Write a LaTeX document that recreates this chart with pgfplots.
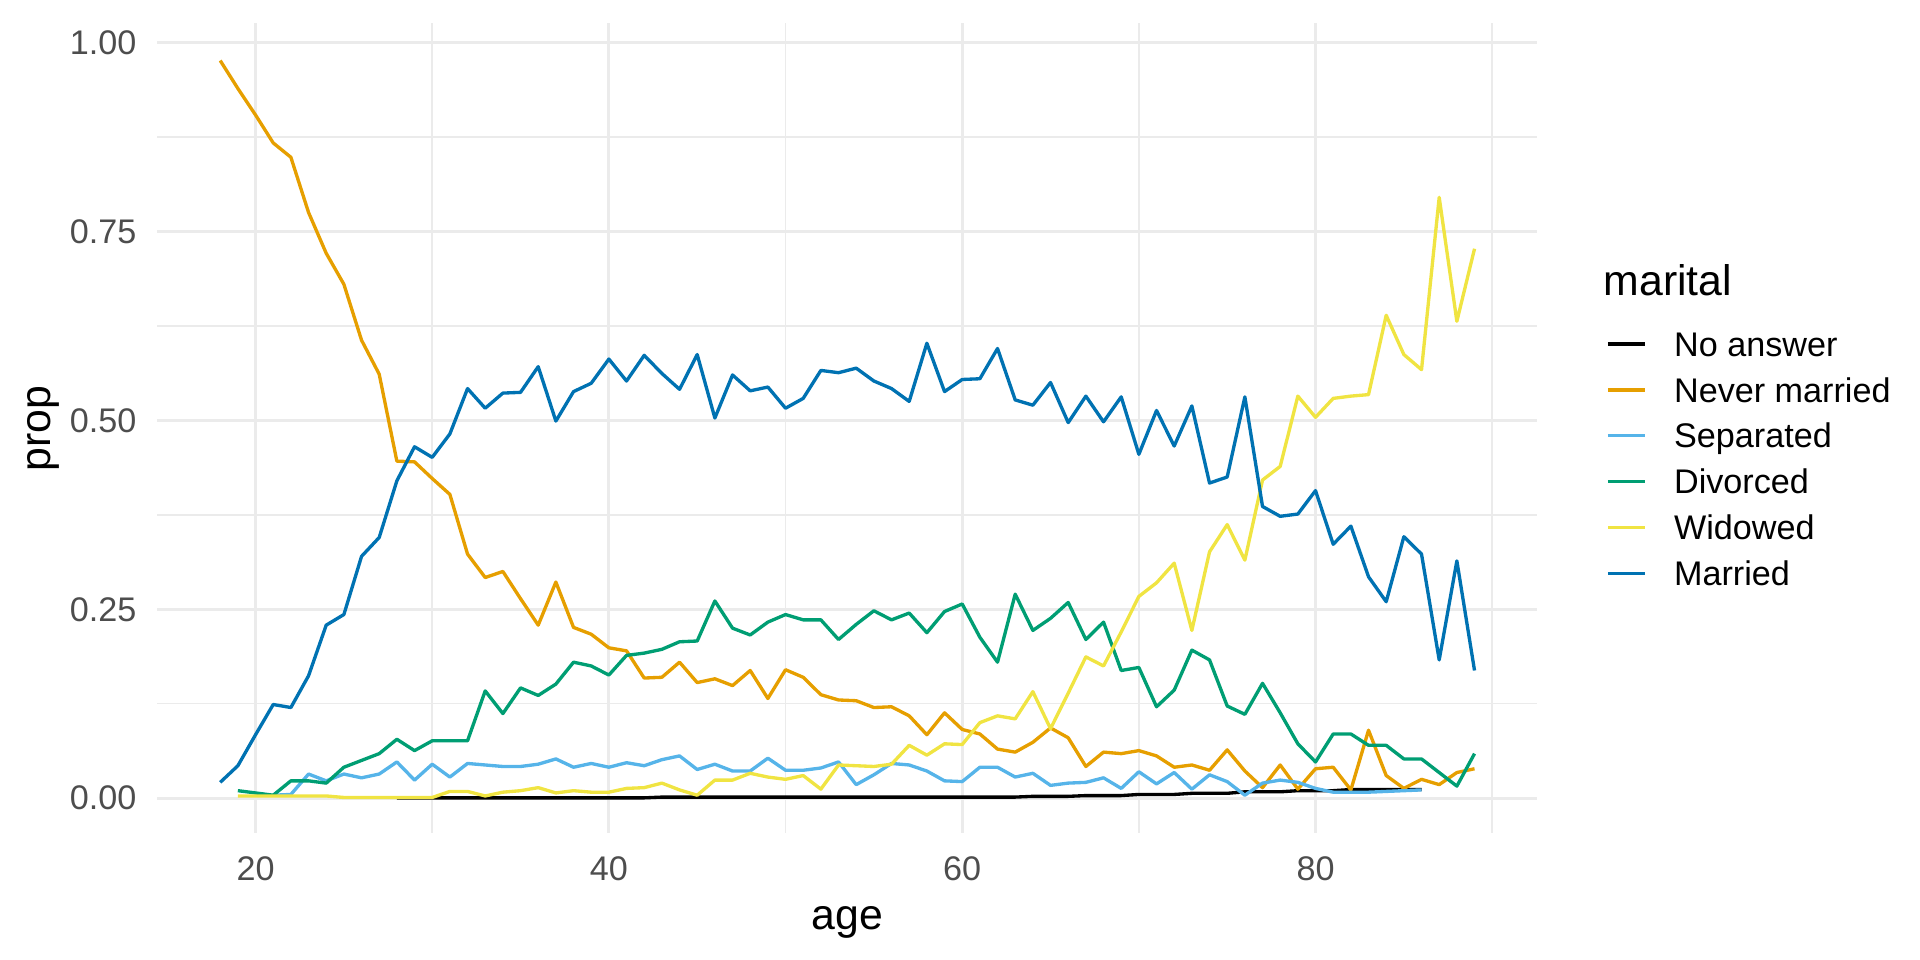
\documentclass[border=0pt]{standalone}
\usepackage{fontspec}
\setmainfont{Liberation Sans}
\usepackage{pgfplots}
\pgfplotsset{compat=1.18}
\definecolor{gridgray}{HTML}{EBEBEB}
\definecolor{ticktext}{HTML}{4D4D4D}
\definecolor{cNA}{HTML}{000000}
\definecolor{cNever}{HTML}{E69F00}
\definecolor{cSep}{HTML}{56B4E9}
\definecolor{cDiv}{HTML}{009E73}
\definecolor{cWid}{HTML}{F0E442}
\definecolor{cMar}{HTML}{0072B2}
\newcommand{\ticksize}{\fontsize{12.3}{14}\selectfont}
\newcommand{\titlesize}{\fontsize{15.4}{18}\selectfont}
\tikzset{dl/.style={line width=1.2pt, line join=round}}
\begin{document}
\begin{tikzpicture}
\useasboundingbox (0,0) rectangle (691.2pt,345.6pt);
\begin{axis}[
  at={(56.7pt,45.72pt)}, anchor=south west,
  scale only axis, width=496.7pt, height=291.42pt,
  xmin=14.45, xmax=92.55, ymin=-0.046, ymax=1.025,
  axis line style={draw=none},
  major tick length=0pt, minor tick length=0pt,
  xtick={20,40,60,80}, xticklabels={20,40,60,80},
  ytick={0,0.25,0.5,0.75,1}, yticklabels={0.00,0.25,0.50,0.75,1.00},
  minor xtick={30,50,70,90}, minor ytick={0.125,0.375,0.625,0.875},
  grid=both,
  major grid style={color=gridgray, line width=1.07pt},
  minor grid style={color=gridgray, line width=0.53pt},
  /pgf/number format/assume math mode=true,
  xticklabel style={anchor=north, inner sep=0pt, font=\ticksize, text=ticktext},
  yticklabel style={anchor=east, inner sep=0pt, font=\ticksize, text=ticktext},
  xticklabel shift=8.28pt, yticklabel shift=7.4pt,
  xlabel={age}, ylabel={prop},
  xlabel style={at={(axis description cs:0.5,-0.1186)}, anchor=base, inner sep=0pt, font=\titlesize},
  ylabel style={at={(axis description cs:-0.0779,0.5)}, anchor=base, inner sep=0pt, font=\titlesize},
  legend cell align=left,
  legend style={at={(axis description cs:1.0499,0.6233)}, anchor=north west,
    draw=none, fill=none, inner sep=0pt, outer sep=0pt,
    row sep=5.32pt, column sep=10pt, font=\ticksize,
    nodes={inner sep=0pt, text height=10pt, text depth=1.2pt}},
  legend image code/.code={\draw[#1, line width=1.2pt] (0pt,0pt) -- (13.3pt,0pt);},
]
% No answer
\addplot[color=cNA, dl] coordinates {
(28,0.0005)(29,0.0005)(30,0.0005)(31,0.0005)(32,0.0005)(33,0.0005)(34,0.0005)(35,0.0005)
(36,0.0005)(37,0.0005)(38,0.0005)(39,0.0005)(40,0.0005)(41,0.0005)(42,0.0005)
(43,0.0015)(44,0.0015)(45,0.0015)(46,0.0015)(47,0.0015)(48,0.0015)(49,0.0015)(50,0.0015)
(51,0.0015)(52,0.0015)(53,0.0015)(54,0.0015)(55,0.0015)(56,0.0015)(57,0.0015)(58,0.0015)
(59,0.0015)(60,0.0015)(61,0.0015)(62,0.0015)(63,0.0015)
(64,0.0025)(65,0.0025)(66,0.0025)(67,0.0035)(68,0.0035)(69,0.0035)
(70,0.005)(71,0.005)(72,0.005)(73,0.0065)(74,0.0065)(75,0.0065)
(76,0.0085)(77,0.0085)(78,0.0085)(79,0.010)(80,0.010)(81,0.010)
(82,0.0115)(83,0.0115)(84,0.0115)(85,0.0115)(86,0.0115)};
\addlegendentry{No answer}
% Never married
\addplot[color=cNever, dl] coordinates {
(18,0.976)(19,0.939)(20,0.904)(21,0.867)(22,0.848)(23,0.775)(24,0.721)(25,0.680)
(26,0.606)(27,0.561)(28,0.446)(29,0.445)(30,0.423)(31,0.402)(32,0.323)(33,0.292)
(34,0.300)(35,0.264)(36,0.229)(37,0.286)(38,0.226)(39,0.217)(40,0.199)(41,0.195)
(42,0.159)(43,0.160)(44,0.180)(45,0.153)(46,0.158)(47,0.149)(48,0.169)(49,0.132)
(50,0.170)(51,0.160)(52,0.137)(53,0.130)(54,0.129)(55,0.120)(56,0.121)(57,0.109)
(58,0.084)(59,0.113)(60,0.091)(61,0.085)(62,0.065)(63,0.061)(64,0.074)(65,0.093)
(66,0.080)(67,0.042)(68,0.061)(69,0.059)(70,0.063)(71,0.056)(72,0.041)(73,0.044)
(74,0.037)(75,0.064)(76,0.036)(77,0.014)(78,0.044)(79,0.012)(80,0.039)(81,0.041)
(82,0.011)(83,0.090)(84,0.030)(85,0.013)(86,0.025)(87,0.018)(88,0.034)(89,0.039)};
\addlegendentry{Never married}
% Separated
\addplot[color=cSep, dl] coordinates {
(21,0.004)(22,0.005)(23,0.032)(24,0.023)(25,0.032)(26,0.027)(27,0.032)(28,0.048)
(29,0.024)(30,0.045)(31,0.028)(32,0.046)(33,0.044)(34,0.042)(35,0.042)(36,0.045)
(37,0.052)(38,0.041)(39,0.046)(40,0.041)(41,0.047)(42,0.043)(43,0.051)(44,0.056)
(45,0.038)(46,0.045)(47,0.036)(48,0.036)(49,0.053)(50,0.037)(51,0.037)(52,0.040)
(53,0.048)(54,0.018)(55,0.031)(56,0.046)(57,0.044)(58,0.036)(59,0.023)(60,0.022)
(61,0.041)(62,0.041)(63,0.028)(64,0.033)(65,0.017)(66,0.020)(67,0.021)(68,0.027)
(69,0.013)(70,0.035)(71,0.019)(72,0.034)(73,0.012)(74,0.031)(75,0.022)(76,0.004)
(77,0.020)(78,0.024)(79,0.021)(80,0.013)(81,0.008)(82,0.008)(83,0.008)(84,0.009)
(85,0.010)(86,0.011)};
\addlegendentry{Separated}
% Divorced
\addplot[color=cDiv, dl] coordinates {
(19,0.010)(20,0.007)(21,0.004)(22,0.023)(23,0.023)(24,0.020)(25,0.041)(26,0.050)
(27,0.059)(28,0.078)(29,0.063)(30,0.076)(31,0.076)(32,0.076)(33,0.142)(34,0.112)
(35,0.146)(36,0.136)(37,0.151)(38,0.180)(39,0.175)(40,0.163)(41,0.189)(42,0.192)
(43,0.197)(44,0.207)(45,0.208)(46,0.261)(47,0.225)(48,0.216)(49,0.233)(50,0.243)
(51,0.236)(52,0.236)(53,0.210)(54,0.230)(55,0.248)(56,0.236)(57,0.245)(58,0.219)
(59,0.247)(60,0.257)(61,0.213)(62,0.180)(63,0.270)(64,0.222)(65,0.238)(66,0.259)
(67,0.210)(68,0.233)(69,0.169)(70,0.173)(71,0.121)(72,0.143)(73,0.196)(74,0.183)
(75,0.122)(76,0.111)(77,0.152)(78,0.113)(79,0.072)(80,0.048)(81,0.085)(82,0.085)
(83,0.070)(84,0.070)(85,0.052)(86,0.052)(87,0.034)(88,0.016)(89,0.059)};
\addlegendentry{Divorced}
% Widowed
\addplot[color=cWid, dl] coordinates {
(19,0.003)(20,0.003)(21,0.003)(22,0.003)(23,0.003)(24,0.003)(25,0.001)(26,0.001)
(27,0.001)(28,0.001)(29,0.001)(30,0.001)(31,0.009)(32,0.009)(33,0.003)(34,0.008)
(35,0.010)(36,0.014)(37,0.007)(38,0.010)(39,0.008)(40,0.008)(41,0.013)(42,0.014)
(43,0.020)(44,0.011)(45,0.004)(46,0.024)(47,0.024)(48,0.033)(49,0.028)(50,0.025)
(51,0.030)(52,0.012)(53,0.044)(54,0.043)(55,0.042)(56,0.045)(57,0.070)(58,0.057)
(59,0.072)(60,0.071)(61,0.100)(62,0.109)(63,0.105)(64,0.141)(65,0.092)(66,0.139)
(67,0.187)(68,0.175)(69,0.220)(70,0.267)(71,0.285)(72,0.311)(73,0.222)(74,0.326)
(75,0.362)(76,0.315)(77,0.421)(78,0.439)(79,0.532)(80,0.504)(81,0.529)(82,0.532)
(83,0.534)(84,0.639)(85,0.587)(86,0.567)(87,0.795)(88,0.631)(89,0.727)};
\addlegendentry{Widowed}
% Married
\addplot[color=cMar, dl] coordinates {
(18,0.021)(19,0.043)(20,0.084)(21,0.124)(22,0.120)(23,0.162)(24,0.229)(25,0.243)
(26,0.320)(27,0.345)(28,0.420)(29,0.465)(30,0.451)(31,0.482)(32,0.542)(33,0.516)
(34,0.536)(35,0.537)(36,0.571)(37,0.499)(38,0.538)(39,0.549)(40,0.581)(41,0.552)
(42,0.586)(43,0.562)(44,0.541)(45,0.587)(46,0.503)(47,0.560)(48,0.539)(49,0.544)
(50,0.516)(51,0.529)(52,0.566)(53,0.563)(54,0.569)(55,0.552)(56,0.542)(57,0.525)
(58,0.602)(59,0.538)(60,0.554)(61,0.555)(62,0.595)(63,0.527)(64,0.520)(65,0.550)
(66,0.497)(67,0.532)(68,0.498)(69,0.531)(70,0.455)(71,0.513)(72,0.466)(73,0.519)
(74,0.417)(75,0.425)(76,0.531)(77,0.386)(78,0.373)(79,0.376)(80,0.407)(81,0.336)
(82,0.360)(83,0.293)(84,0.260)(85,0.346)(86,0.323)(87,0.183)(88,0.314)(89,0.169)};
\addlegendentry{Married}
\end{axis}
\node[anchor=base west, inner sep=0pt, font=\titlesize] at (577.1pt,239.04pt) {marital};
\end{tikzpicture}
\end{document}
